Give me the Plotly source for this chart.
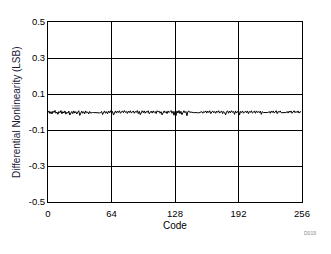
import plotly.graph_objects as go

codes = list(range(256))
dnl = [
    -0.004, 0.006, -0.009, 0.002, -0.011, 0.005, -0.003, 0.009, -0.007, 0.000, -0.013, 0.003, -0.004, 0.008, -0.010, 0.002,
    -0.006, 0.006, -0.012, -0.001, -0.007, 0.005, -0.017, -0.003, 0.003, -0.009, 0.006, -0.006, 0.002, -0.011, 0.000, 0.007,
    -0.019, -0.003, 0.005, -0.007, 0.002, -0.010, 0.006, -0.004, 0.000, -0.011, 0.003, -0.006, -0.002, -0.003, -0.003, -0.004,
    -0.004, -0.003, -0.003, -0.004, -0.005, -0.004, 0.003, -0.014, -0.001, 0.006, -0.007, 0.002, -0.010, 0.005, -0.004, 0.007,
    -0.008, 0.003, -0.017, 0.000, 0.006, -0.006, 0.005, -0.003, 0.007, -0.007, 0.002, 0.006, -0.004, 0.008, -0.002, 0.003,
    -0.008, 0.005, -0.003, 0.007, -0.006, 0.002, 0.006, -0.007, 0.003, -0.002, 0.008, -0.009, 0.004, -0.015, 0.000, 0.007,
    -0.004, 0.006, -0.007, 0.003, -0.002, 0.007, -0.010, 0.002, 0.005, -0.006, 0.006, -0.003, 0.003, -0.009, 0.007, 0.000,
    0.005, -0.007, 0.002, -0.016, -0.001, 0.006, -0.004, 0.003, -0.009, 0.006, -0.003, 0.002, 0.008, -0.007, 0.004, -0.018,
    0.003, -0.020, 0.006, -0.006, 0.008, -0.009, 0.004, -0.015, 0.000, 0.007, -0.004, 0.003, -0.021, 0.002, 0.006, -0.003,
    0.000, -0.002, -0.003, -0.004, -0.003, -0.002, -0.003, -0.004, -0.005, -0.004, -0.003, 0.002, -0.007, 0.003, -0.002, 0.006,
    -0.006, 0.005, -0.003, 0.007, -0.009, 0.002, 0.006, -0.004, 0.003, -0.007, 0.005, -0.002, 0.007, -0.006, 0.000, 0.006,
    -0.009, 0.003, -0.003, -0.016, 0.002, 0.006, -0.007, 0.005, -0.004, 0.007, -0.002, 0.003, -0.013, 0.006, -0.006, 0.005,
    0.008, -0.017, 0.003, -0.003, 0.006, -0.007, 0.002, 0.005, -0.004, 0.006, -0.009, 0.003, -0.002, 0.007, -0.006, 0.002,
    0.005, -0.007, 0.006, -0.003, 0.003, -0.004, 0.005, -0.013, 0.002, -0.003, -0.004, -0.003, -0.004, -0.003, -0.002, 0.003,
    -0.007, 0.005, -0.003, 0.006, -0.006, 0.002, 0.007, -0.009, 0.003, -0.002, 0.006, -0.004, -0.003, -0.004, -0.003, -0.003,
    -0.004, 0.003, -0.006, 0.005, -0.002, 0.006, -0.007, 0.002, 0.007, -0.004, 0.003, -0.003, 0.006, -0.006, 0.002, 0.000,
]
x_ticks = [0, 64, 128, 192, 256]
y_ticks = [-0.5, -0.3, -0.1, 0.1, 0.3, 0.5]
y_tick_text = ["-0.5", "-0.3", "-0.1", "0.1", "0.3", "0.5"]

font = "Liberation Sans, Arial, sans-serif"
L, R, T, B = 48, 29, 22, 52
W, H = 331, 254
pw, ph = W - L - R, H - T - B

fig = go.Figure()
fig.add_trace(go.Scatter(x=codes, y=dnl, mode="lines",
                         line=dict(color="black", width=1), hoverinfo="skip"))

fig.update_layout(
    width=W, height=H,
    margin=dict(l=L, r=R, t=T, b=B),
    paper_bgcolor="white", plot_bgcolor="white",
    showlegend=False,
    font=dict(family=font, size=9.5, color="black"),
    xaxis=dict(range=[0, 256], tickvals=x_ticks, ticktext=[str(v) for v in x_ticks],
               showgrid=True, gridcolor="black", gridwidth=1,
               showline=True, linecolor="black", linewidth=1, mirror=True,
               ticks="outside", ticklen=3, tickcolor="rgba(0,0,0,0)",
               zeroline=False, automargin=False),
    yaxis=dict(range=[-0.5, 0.5], tickvals=y_ticks, ticktext=y_tick_text,
               showgrid=True, gridcolor="black", gridwidth=1,
               showline=True, linecolor="black", linewidth=1, mirror=True,
               ticks="", zeroline=False, automargin=False),
    annotations=[
        dict(text="Differential Nonlinearity (LSB)", xref="paper", yref="paper",
             x=-(L - 16) / pw, y=0.5, textangle=-90, xanchor="center", yanchor="middle",
             showarrow=False, font=dict(size=10, color="#1a1a3a")),
        dict(text="Code", xref="paper", yref="paper",
             x=0.5, y=-(225 - (T + ph)) / ph, xanchor="center", yanchor="middle",
             showarrow=False, font=dict(size=10, color="black")),
        dict(text="D019", xref="paper", yref="paper",
             x=(310 - L) / pw, y=-(233 - (T + ph)) / ph,
             xanchor="center", yanchor="middle",
             showarrow=False, font=dict(size=5, color="#888888")),
    ],
)
fig.write_html("out.html")
